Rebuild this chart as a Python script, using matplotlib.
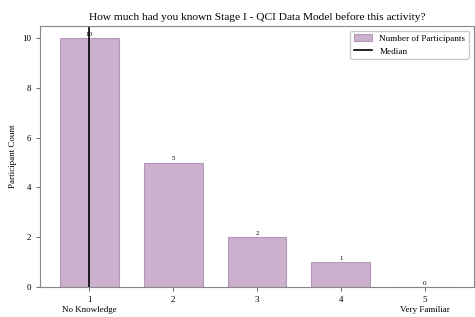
import matplotlib.pyplot as plt

levels = [1, 2, 3, 4, 5]
counts = [10, 5, 2, 1, 0]
median = 1
end_labels = ['No Knowledge', 'Very Familiar']

plt.rcParams['font.family'] = ['Liberation Serif', 'DejaVu Serif']

fig, ax = plt.subplots(figsize=(4.75, 3.17), dpi=100)
bars = ax.bar(levels, counts, width=0.7, color='#CCB1CF', edgecolor='#B596B9',
              linewidth=0.8, label='Number of Participants')
med = ax.axvline(median, color='black', linewidth=1.2, label='Median')

for bar, value in zip(bars, counts):
    ax.text(bar.get_x() + bar.get_width() / 2, bar.get_height() + 0.05, str(value),
            ha='center', va='bottom', fontsize=5)

ax.set_xticks(levels)
ax.tick_params(labelsize=6.5, length=3, color='#777777')
ax.text(levels[0], -0.075, end_labels[0], transform=ax.get_xaxis_transform(),
        ha='center', va='top', fontsize=6.5)
ax.text(levels[-1], -0.075, end_labels[1], transform=ax.get_xaxis_transform(),
        ha='center', va='top', fontsize=6.5)

ax.set_ylabel('Participant Count', fontsize=6.5)
ax.set_title('How much had you known Stage I - QCI Data Model before this activity?',
             fontsize=8.2, pad=4)
for s in ax.spines.values():
    s.set_color('#888888')
ax.legend(handles=[bars, med], fontsize=6.6, loc='upper right', framealpha=1,
          edgecolor='#cccccc')

plt.subplots_adjust(left=0.085, right=0.997, top=0.918, bottom=0.095)
plt.savefig('out.png')
